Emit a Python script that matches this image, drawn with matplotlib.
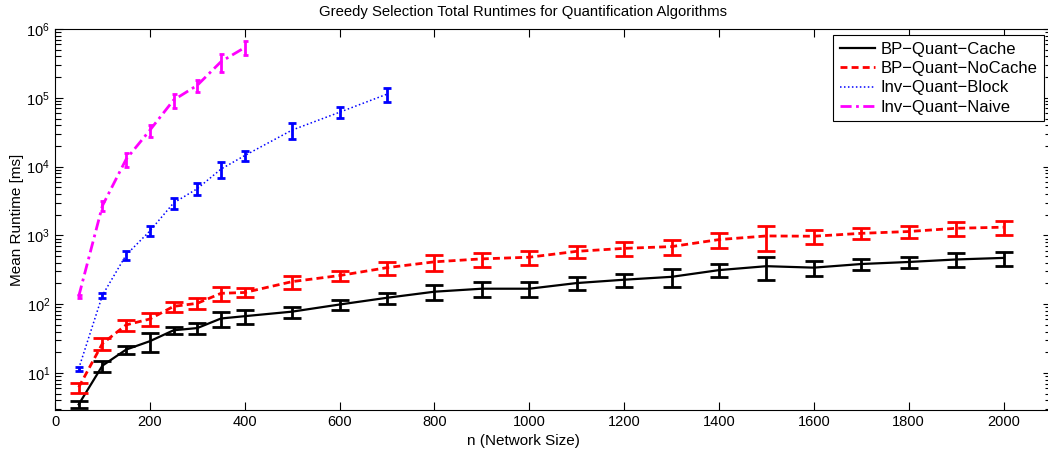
import matplotlib
matplotlib.use("Agg")
import matplotlib.pyplot as plt
from matplotlib.ticker import LogLocator, FixedLocator

plt.rcParams['font.family'] = ['Liberation Sans', 'DejaVu Sans']
plt.rcParams['mathtext.default'] = 'regular'

# ---- data ----
n_bp = [50, 100, 150, 200, 250, 300, 350, 400, 500, 600, 700, 800, 900, 1000,
        1100, 1200, 1300, 1400, 1500, 1600, 1700, 1800, 1900, 2000]
cache_mean = [3.5, 12.8, 21.9, 29, 41.8, 45, 62, 67, 78, 99, 124, 152, 168, 168,
              203, 227, 250, 313, 357, 340, 384, 411, 447, 471]
cache_err = [0.45, 2.3, 3.0, 9, 5.3, 7.5, 15, 15, 14, 16, 23, 38, 40, 40,
             43, 48, 70, 67, 133, 84, 70, 79, 103, 108]
nocache_mean = [6.2, 26.8, 50, 61, 93, 103, 144, 148, 213, 261, 340, 413, 456, 482,
                587, 648, 688, 870, 982, 973, 1072, 1139, 1270, 1316]
nocache_err = [1.0, 5.2, 9, 12.5, 15.5, 19, 32, 22, 47, 43, 75, 106, 105, 111,
               122, 146, 170, 205, 389, 223, 195, 232, 280, 302]

n_block = [50, 100, 150, 200, 250, 300, 350, 400, 500, 600, 700]
block_mean = [11.6, 135, 520, 1160, 2960, 4780, 9200, 14470, 34000, 61700, 113000]
block_err = [0.8, 11.5, 80, 190, 520, 976, 2400, 2400, 8700, 11200, 27000]

n_naive = [50, 100, 150, 200, 250, 300, 350, 400]
naive_mean = [130, 2700, 12800, 33800, 92700, 152000, 335000, 537000]
naive_err = [5, 450, 3000, 6800, 22000, 31000, 101000, 124000]

labels = ['BP\u2212Quant\u2212Cache', 'BP\u2212Quant\u2212NoCache',
          'Inv\u2212Quant\u2212Block', 'Inv\u2212Quant\u2212Naive']
xticks = [0, 200, 400, 600, 800, 1000, 1200, 1400, 1600, 1800, 2000]

# ---- figure ----
W, H = 1048, 453
fig = plt.figure(figsize=(W / 100, H / 100), dpi=100)
ax = fig.add_axes([55 / W, 43 / H, 996 / W, 381 / H])

series = [
    (n_bp, cache_mean, cache_err, 'black', '-', 1.6, 6.8),
    (n_bp, nocache_mean, nocache_err, '#ff0000', (0, (2.5, 1.5)), 2.0, 6.8),
    (n_block, block_mean, block_err, '#0000ff', (0, (1, 1.6)), 1.1, 2.6),
    (n_naive, naive_mean, naive_err, '#ff00ff', (0, (4, 1.6, 1, 1.6)), 2.0, 1.8),
]
handles = []
for (x, y, e, c, ls, lw, cap), lab in zip(series, labels):
    ax.errorbar(x, y, yerr=e, fmt='none', ecolor=c, elinewidth=2.0,
                capsize=cap, capthick=2.0, zorder=3)
    h, = ax.plot(x, y, color=c, linestyle=ls, linewidth=lw, label=lab, zorder=3)
    handles.append(h)

ax.set_yscale('log')
ax.set_xlim(0, 2100)
ax.set_ylim(2.9, 1e6)
ax.xaxis.set_major_locator(FixedLocator(xticks))
ax.yaxis.set_major_locator(LogLocator(base=10, numticks=20))
ax.yaxis.set_minor_locator(LogLocator(base=10, subs=range(2, 10), numticks=20))

ax.tick_params(which='both', direction='in', top=True, right=True,
               labelsize=10.5, colors='black', width=0.8)
ax.tick_params(which='major', length=6)
ax.tick_params(which='minor', length=4)
for s in ax.spines.values():
    s.set_linewidth(0.8)

cx = (523 - 55) / 996  # horizontal centre of title/xlabel in axes coords
fig.text(523 / W, 1 - 12 / H,
         'Greedy Selection Total Runtimes for Quantification Algorithms',
         ha='center', va='center', fontsize=10.7)
ax.set_xlabel('n (Network Size)', fontsize=11)
ax.xaxis.set_label_coords(cx, -0.062)
ax.set_ylabel('Mean Runtime [ms]', fontsize=11)
ax.yaxis.set_label_coords(-31 / 996, 0.5)

leg = ax.legend(handles=handles, loc='upper right',
                bbox_to_anchor=(1044 / W, 418 / H), bbox_transform=fig.transFigure,
                borderaxespad=0, fontsize=12, fancybox=False, framealpha=1,
                edgecolor='black', handlelength=2.1, handletextpad=0.35,
                labelspacing=0.26, borderpad=0.4)
leg.get_frame().set_linewidth(0.8)

fig.savefig('out.png', dpi=100)
